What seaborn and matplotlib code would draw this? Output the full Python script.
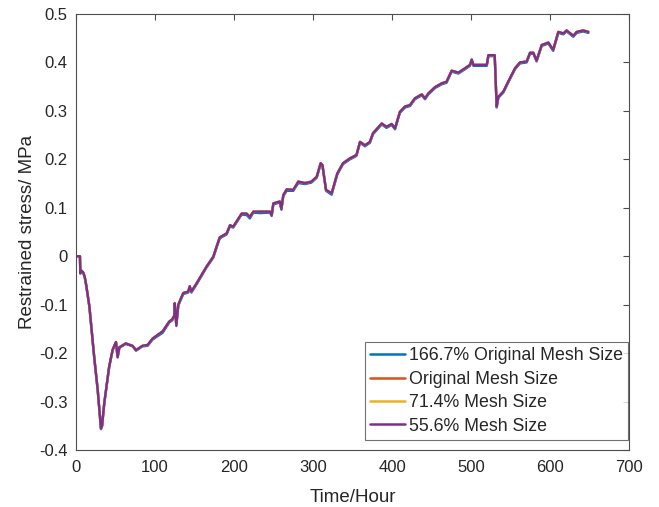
import matplotlib
matplotlib.use("Agg")
import matplotlib.pyplot as plt
import seaborn as sns
import pandas as pd
from matplotlib.ticker import FuncFormatter
from matplotlib.lines import Line2D

hours = [0, 5, 5.5, 7, 9, 11, 13, 17, 23, 27.5, 31.6, 33, 35.8, 42, 46.4, 50.6,
         52.7, 54.9, 63, 71.7, 76, 84, 90.7, 97, 109.7, 118, 122, 124.5, 125, 127,
         129.5, 135.8, 142, 144, 146, 152.7, 165, 173.8, 178, 182, 190.7, 195, 199,
         209.7, 216, 220, 224.5, 233, 245.6, 247.7, 249.8, 258, 260, 262.4, 266.7,
         275, 281.4, 290, 298, 304.7, 309.7, 312, 316.5, 323.6, 330.8, 338, 346.8,
         355, 359.5, 365.8, 372, 376, 387, 393, 399.6, 403.8, 410, 416.5, 422.8, 429,
         437.6, 441.8, 446, 454.4, 463, 469, 475.5, 484, 492.4, 498.7, 500.9, 503,
         520, 522, 530, 532.5, 534.6, 541, 547, 555.7, 562, 570.5, 574.7, 578.9, 583,
         589.5, 597.9, 604, 610.5, 616.9, 621, 629.5, 633.8, 642, 648.5]

stress_556 = [0.000, 0.000, -0.035, -0.030, -0.033, -0.042, -0.060, -0.104, -0.207,
              -0.276, -0.355, -0.350, -0.303, -0.228, -0.193, -0.177, -0.208, -0.188,
              -0.180, -0.185, -0.194, -0.185, -0.183, -0.170, -0.155, -0.135, -0.130,
              -0.122, -0.097, -0.142, -0.100, -0.076, -0.073, -0.062, -0.073, -0.056,
              -0.022, -0.001, 0.020, 0.039, 0.047, 0.064, 0.061, 0.088, 0.088, 0.081,
              0.092, 0.092, 0.092, 0.085, 0.109, 0.113, 0.098, 0.126, 0.138, 0.137,
              0.154, 0.151, 0.154, 0.164, 0.192, 0.188, 0.137, 0.130, 0.171, 0.192,
              0.202, 0.209, 0.236, 0.229, 0.236, 0.254, 0.274, 0.267, 0.273, 0.264,
              0.298, 0.309, 0.312, 0.326, 0.334, 0.326, 0.336, 0.349, 0.357, 0.360,
              0.383, 0.379, 0.388, 0.395, 0.406, 0.395, 0.395, 0.415, 0.415, 0.309,
              0.329, 0.340, 0.360, 0.388, 0.400, 0.402, 0.420, 0.420, 0.404, 0.436,
              0.441, 0.426, 0.463, 0.460, 0.466, 0.455, 0.463, 0.466, 0.463]

stress_166 = [0.000, 0.000, -0.036, -0.031, -0.034, -0.043, -0.061, -0.105, -0.208,
              -0.277, -0.357, -0.351, -0.304, -0.229, -0.194, -0.178, -0.209, -0.189,
              -0.181, -0.186, -0.195, -0.186, -0.185, -0.172, -0.158, -0.137, -0.132,
              -0.124, -0.099, -0.144, -0.102, -0.078, -0.075, -0.064, -0.075, -0.058,
              -0.024, -0.003, 0.018, 0.037, 0.045, 0.062, 0.059, 0.086, 0.085, 0.078,
              0.090, 0.089, 0.090, 0.083, 0.107, 0.111, 0.096, 0.124, 0.135, 0.135,
              0.151, 0.149, 0.152, 0.162, 0.190, 0.186, 0.135, 0.127, 0.169, 0.190,
              0.200, 0.207, 0.234, 0.227, 0.234, 0.252, 0.272, 0.265, 0.271, 0.262,
              0.296, 0.307, 0.310, 0.324, 0.332, 0.324, 0.334, 0.347, 0.355, 0.358,
              0.381, 0.377, 0.386, 0.393, 0.404, 0.393, 0.393, 0.413, 0.413, 0.307,
              0.327, 0.338, 0.358, 0.386, 0.398, 0.400, 0.418, 0.418, 0.402, 0.434,
              0.439, 0.424, 0.461, 0.458, 0.464, 0.453, 0.461, 0.464, 0.461]

stress_orig = list(stress_556)
stress_714 = list(stress_556)

labels = ["166.7% Original Mesh Size", "Original Mesh Size",
          "71.4% Mesh Size", "55.6% Mesh Size"]
colors = ["#0072BD", "#D95319", "#EDB120", "#7E2F8E"]
series = [stress_166, stress_orig, stress_714, stress_556]

frames = []
for lab, vals in zip(labels, series):
    frames.append(pd.DataFrame({"Time": hours, "Stress": vals, "Case": lab}))
df = pd.concat(frames, ignore_index=True)

sns.set_style("white")
plt.rcParams["font.family"] = ["Liberation Sans", "DejaVu Sans"]

fig = plt.figure(figsize=(6.59, 5.07), dpi=100)
ax = fig.add_axes([0.1153, 0.1124, 0.8392, 0.8600])

sns.lineplot(data=df, x="Time", y="Stress", hue="Case", hue_order=labels,
             palette=colors, sort=False, estimator=None, linewidth=1.7,
             ax=ax, legend=False)

ax.set_xlim(0, 700)
ax.set_ylim(-0.4, 0.5)
ax.set_xticks([0, 100, 200, 300, 400, 500, 600, 700])
ax.set_yticks([-0.4, -0.3, -0.2, -0.1, 0, 0.1, 0.2, 0.3, 0.4, 0.5])
ax.yaxis.set_major_formatter(FuncFormatter(lambda v, p: "0" if abs(v) < 1e-9 else f"{v:.1f}"))
ax.set_xlabel("Time/Hour", fontsize=13.5, color="#262626", labelpad=10)
ax.set_ylabel("Restrained stress/ MPa", fontsize=13.5, color="#262626", labelpad=2)
ax.tick_params(direction="in", length=4, width=0.8, colors="#4d4d4d",
               labelcolor="#262626", labelsize=12, top=True, right=True,
               labeltop=False, labelright=False)
ax.tick_params(axis="x", pad=7)
ax.tick_params(axis="y", pad=6)
for s in ax.spines.values():
    s.set_color("#4d4d4d")
    s.set_linewidth(0.8)
    s.set_visible(True)

handles = [Line2D([0], [0], color=c, lw=1.8) for c in colors]
leg = ax.legend(handles, labels, loc="lower right", bbox_to_anchor=(0.998, 0.023),
                fontsize=12.8, frameon=True, fancybox=False, edgecolor="#4d4d4d",
                handlelength=1.95, handletextpad=0.2, borderpad=0.3,
                labelspacing=0.36, borderaxespad=0.0)
leg.get_frame().set_linewidth(0.8)

fig.savefig("out.png", dpi=100)
